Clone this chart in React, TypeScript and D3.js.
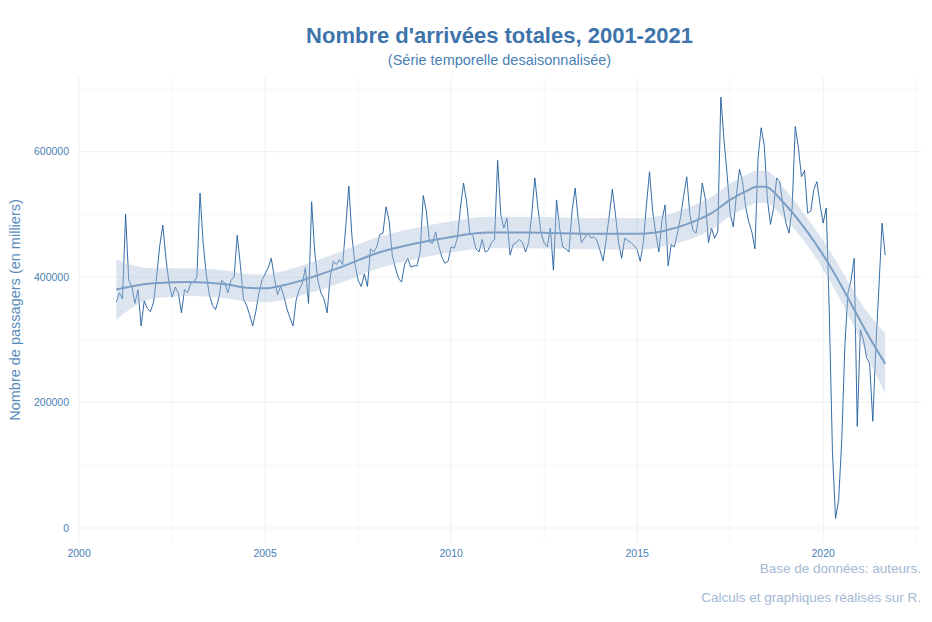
import React from "react";
import * as d3 from "d3";

// Monthly values (passengers), Jan 2001 – Sep 2021 (thousands)
const y2001 = [360, 375, 365, 500, 395, 385, 358, 380, 322, 362, 350, 345];
const y2002 = [360, 400, 450, 483, 430, 390, 368, 384, 375, 343, 380, 375];
const y2003 = [390, 392, 400, 534, 455, 405, 372, 355, 348, 365, 395, 390];
const y2004 = [375, 395, 400, 467, 420, 365, 355, 340, 322, 345, 375, 395];
const y2005 = [405, 415, 430, 398, 372, 385, 370, 350, 335, 322, 363, 380];
const y2006 = [390, 415, 358, 520, 440, 395, 375, 365, 343, 400, 425, 420];
const y2007 = [428, 420, 480, 545, 465, 420, 395, 385, 405, 385, 445, 440];
const y2008 = [448, 468, 470, 512, 490, 435, 415, 398, 392, 420, 430, 416];
const y2009 = [418, 418, 440, 530, 505, 456, 454, 472, 450, 432, 422, 425];
const y2010 = [448, 446, 462, 510, 550, 520, 470, 466, 445, 440, 460, 440];
const y2011 = [443, 455, 460, 586, 500, 478, 494, 435, 452, 455, 460, 455];
const y2012 = [440, 455, 500, 558, 510, 470, 455, 448, 478, 411, 523, 478];
const y2013 = [448, 445, 440, 505, 542, 492, 455, 462, 470, 463, 464, 459];
const y2014 = [443, 426, 459, 498, 540, 500, 455, 430, 462, 458, 455, 450];
const y2015 = [444, 425, 455, 515, 568, 505, 470, 440, 490, 515, 418, 452];
const y2016 = [448, 470, 495, 530, 560, 500, 475, 470, 500, 550, 525, 455];
const y2017 = [478, 462, 472, 687, 620, 565, 502, 480, 530, 572, 552, 512];
const y2018 = [488, 472, 445, 590, 638, 610, 525, 484, 510, 558, 552, 515];
const y2019 = [486, 470, 510, 640, 607, 560, 570, 502, 505, 540, 552, 515];
const y2020 = [486, 510, 340, 120, 15, 45, 140, 290, 375, 395, 430, 162];
const y2021 = [316, 300, 272, 262, 170, 290, 385, 486, 435];

const years = [y2001, y2002, y2003, y2004, y2005, y2006, y2007, y2008, y2009, y2010, y2011,
  y2012, y2013, y2014, y2015, y2016, y2017, y2018, y2019, y2020, y2021];

// Smoothed trend (loess): knots, centre and half-width (thousands)
const smoothT = [2001.0, 2001.5, 2002.0, 2003.0, 2004.0, 2004.5, 2005.0, 2005.5, 2006.0, 2007.0,
  2008.0, 2009.0, 2010.0, 2011.0, 2012.0, 2013.0, 2014.0, 2015.0, 2015.5, 2016.0, 2016.5, 2017.0,
  2017.5, 2018.0, 2018.2, 2018.45, 2018.9, 2019.6, 2020.2, 2020.8, 2021.0, 2021.3, 2021.667];
const smoothV = [380, 386, 390, 392, 388, 383, 382, 387, 395, 415,
  438, 453, 464, 471, 471, 470, 469, 469, 471, 478, 488, 502,
  523, 539, 544, 544, 521, 470, 416, 352, 330, 298, 262];
const smoothSE = [48, 32, 24, 22, 22, 22, 22, 23, 24, 25,
  25, 25, 25, 25, 25, 25, 25, 25, 25, 25, 26, 26,
  26, 26, 26, 26, 24, 22, 24, 28, 30, 38, 48];

const xTicks = [2000, 2005, 2010, 2015, 2020];
const xMinor = [2002.5, 2007.5, 2012.5, 2017.5, 2022.5];
const yTicks = [0, 200000, 400000, 600000];
const yMinor = [100000, 300000, 500000, 700000];

const W = 932, H = 622;

export default function App() {
  const series: { t: number; v: number }[] = [];
  years.forEach((arr, yi) => arr.forEach((v, m) => series.push({ t: 2001 + yi + m / 12, v: v * 1000 })));
  const smooth = smoothT.map((t, i) => ({ t, v: smoothV[i] * 1000, se: smoothSE[i] * 1000 }));

  const x = d3.scaleLinear().domain([1999.97, 2022.63]).range([78, 921]);
  const y = d3.scaleLinear().domain([-24000, 719000]).range([543, 77]);

  const line = d3.line<{ t: number; v: number }>().x(d => x(d.t)).y(d => y(d.v));
  const sLine = d3.line<{ t: number; v: number }>().x(d => x(d.t)).y(d => y(d.v)).curve(d3.curveMonotoneX);
  const band = d3.area<{ t: number; v: number; se: number }>()
    .x(d => x(d.t)).y0(d => y(d.v - d.se)).y1(d => y(d.v + d.se)).curve(d3.curveMonotoneX);

  const font = "'Liberation Sans', Arial, sans-serif";
  const gridC = "#edf1f7";
  const textC = "#4a7fb5";
  const [px0, px1] = x.range();
  const [py0, py1] = y.range();

  return (
    <svg width={W} height={H} style={{ position: "fixed", left: 0, top: 0, background: "#fff" }} fontFamily={font}>
      {xMinor.map(t => <line key={"xm" + t} x1={x(t)} x2={x(t)} y1={py1} y2={py0} stroke={gridC} strokeWidth={0.6} />)}
      {yMinor.map(v => <line key={"ym" + v} x1={px0} x2={px1} y1={y(v)} y2={y(v)} stroke={gridC} strokeWidth={0.6} />)}
      {xTicks.map(t => <line key={"xg" + t} x1={x(t)} x2={x(t)} y1={py1} y2={py0} stroke={gridC} strokeWidth={1.1} />)}
      {yTicks.map(v => <line key={"yg" + v} x1={px0} x2={px1} y1={y(v)} y2={y(v)} stroke={gridC} strokeWidth={1.1} />)}

      <path d={line(series) || ""} fill="none" stroke="#1f5c9c" strokeWidth={0.9} />
      <path d={band(smooth) || ""} fill="#a7bed7" fillOpacity={0.4} />
      <path d={sLine(smooth) || ""} fill="none" stroke="#7c9fc6" strokeWidth={2} />

      {yTicks.map(v => (
        <text key={"yt" + v} x={69} y={y(v)} dy="0.35em" textAnchor="end" fontSize={10.5} fill={textC}>{v}</text>
      ))}
      {xTicks.map(t => (
        <text key={"xt" + t} x={x(t)} y={557} textAnchor="middle" fontSize={10.5} fill={textC}>{t}</text>
      ))}

      <text x={499.5} y={43} textAnchor="middle" fontSize={22} fontWeight="bold" fill="#3d74ac">
        Nombre d'arrivées totales, 2001-2021
      </text>
      <text x={499.5} y={65} textAnchor="middle" fontSize={14.5} fill="#4a7fb5">
        (Série temporelle desaisonnalisée)
      </text>
      <text transform={`translate(20,${(py0 + py1) / 2}) rotate(-90)`} textAnchor="middle" fontSize={14.5} fill="#5a8bbd">
        Nombre de passagers (en milliers)
      </text>
      <text x={921} y={573} textAnchor="end" fontSize={13.5} fill="#a2b8d3">Base de données: auteurs.</text>
      <text x={921} y={602} textAnchor="end" fontSize={13.5} fill="#a2b8d3">Calculs et graphiques réalisés sur R.</text>
    </svg>
  );
}
